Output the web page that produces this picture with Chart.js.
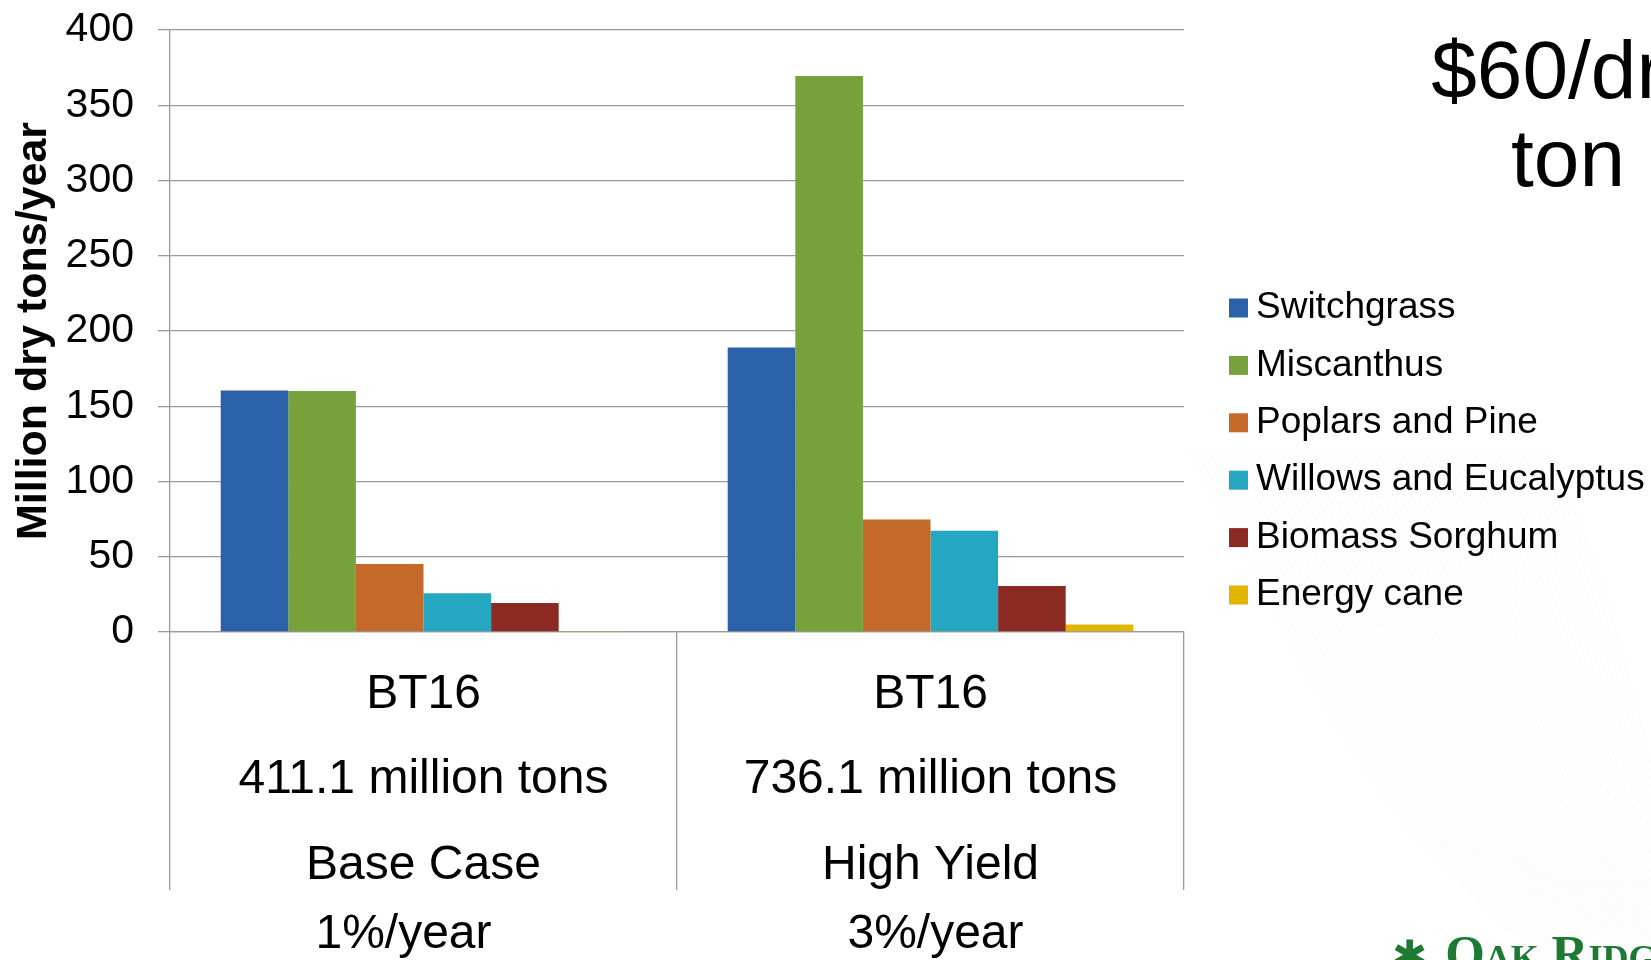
<!DOCTYPE html>
<html>
<head>
<meta charset="utf-8">
<title>Biomass crops at $60/dry ton</title>
<script src="https://cdn.jsdelivr.net/npm/chart.js@4.4.1/dist/chart.umd.min.js"></script>
<style>
  html, body { margin: 0; padding: 0; background: #fff; overflow: hidden; }
  #wrap { position: relative; width: 1651px; height: 960px; overflow: hidden; }
  #waves { position: absolute; left: 0; top: 0; }
  #chart { position: relative; }
  #head {
    position: absolute; left: 1368px; top: 26px; width: 400px;
    font: 82px "Liberation Sans", Arial, sans-serif; line-height: 88px;
    text-align: center; color: #000;
  }
  #logo {
    position: absolute; left: 1392px; top: 928px; white-space: nowrap;
    font: bold 51px "Liberation Serif", "DejaVu Serif", serif; line-height: 50px;
    font-variant: small-caps; color: #1e7a33;
  }
  #logo span { font-family: "DejaVu Sans", sans-serif; font-size: 42px; margin-right: 18px; }
</style>
</head>
<body>
<div id="wrap">
  <svg id="waves" width="1651" height="960"></svg>
  <canvas id="chart"></canvas>
  <div id="head">$60/dry<br>ton</div>
  <div id="logo"><span>&#10033;</span>Oak Ridge</div>
</div>
<script>
// categories: one multi-line label per scenario
const categories = [
  ['BT16', '411.1 million tons', 'Base Case'],
  ['BT16', '736.1 million tons', 'High Yield']
]
const growthRates = ['1%/year', '3%/year']

const seriesNames = ['Switchgrass', 'Miscanthus', 'Poplars and Pine', 'Willows and Eucalyptus', 'Biomass Sorghum', 'Energy cane']
const switchgrass = [160.5, 189.0]
const miscanthus = [160.1, 369.5]
const poplarsPine = [45.1, 74.8]
const willowsEucalyptus = [25.8, 67.3]
const biomassSorghum = [19.2, 30.5]
const energyCane = [0.4, 5.0]

const yTickValues = [0, 50, 100, 150, 200, 250, 300, 350, 400]

const colors = ['#2a61a8', '#77a13a', '#c4692a', '#25a7c2', '#8b2a22', '#e2b600']
const FONT = '"Liberation Sans", Arial, sans-serif'
const GRID = '#9a9a9a'

// faint slide background: a fan of thin green curves in the lower right
const svg = document.getElementById('waves')
let paths = ''
for (let k = 0; k < 60; k++) {
  const d = k * 6
  paths += `<path d="M ${1190 + d} 450 C ${1290 + d} 630, ${1350 + d * 0.8} 820, ${1570 + d * 0.5} 980" fill="none" stroke="#3c8a4a" stroke-width="1" stroke-opacity="0.045"/>`
}
svg.innerHTML = paths

// legend drawn by hand so it can sit beside the plot, centred on the whole chart
const sideLegend = {
  id: 'sideLegend',
  afterDraw(chart) {
    const ctx = chart.ctx
    ctx.save()
    ctx.font = '37px ' + FONT
    ctx.textBaseline = 'middle'
    ctx.textAlign = 'left'
    chart.data.datasets.forEach((ds, i) => {
      const y = 308 + i * 57.4
      ctx.fillStyle = ds.backgroundColor
      ctx.fillRect(1229, y - 9.5, 19, 19)
      ctx.fillStyle = '#000'
      ctx.fillText(ds.label, 1256, y)
    })
    ctx.restore()
  }
}

// growth rate line under each category
const growthNudge = [-20, 5]
const growthLine = {
  id: 'growthLine',
  afterDraw(chart) {
    const ctx = chart.ctx
    const xs = chart.scales.x
    ctx.save()
    ctx.font = '48px ' + FONT
    ctx.fillStyle = '#000'
    ctx.textAlign = 'center'
    ctx.textBaseline = 'middle'
    growthRates.forEach((t, i) => {
      ctx.fillText(t, xs.getPixelForValue(i) + growthNudge[i], 935)
    })
    ctx.restore()
  }
}

const series = [switchgrass, miscanthus, poplarsPine, willowsEucalyptus, biomassSorghum, energyCane]

const ctx = document.getElementById('chart').getContext('2d')
const myChart = new Chart(ctx, {
  type: 'bar',
  data: {
    labels: categories,
    datasets: series.map((vals, i) => ({
      label: seriesNames[i],
      data: vals,
      backgroundColor: colors[i],
      borderWidth: 0,
      categoryPercentage: 0.8,
      barPercentage: 1.0
    }))
  },
  options: {
    responsive: true,
    maintainAspectRatio: false,
    animation: false,
    layout: { padding: { left: 0, right: 467, top: 30, bottom: 0 } },
    plugins: {
      legend: { display: false },
      tooltip: { enabled: false }
    },
    scales: {
      x: {
        offset: true,
        afterFit: s => { s.height = 328 },
        grid: {
          offset: true,
          drawOnChartArea: false,
          drawTicks: true,
          tickLength: 258,
          color: GRID,
          lineWidth: 1.3
        },
        border: { display: true, color: GRID, width: 1.3 },
        ticks: {
          autoSkip: false,
          maxRotation: 0,
          color: '#000',
          padding: -238,
          font: { family: FONT, size: 48, lineHeight: 1.78 }
        }
      },
      y: {
        min: 0,
        max: 400,
        afterFit: s => { s.width = 170; s.paddingTop = 0; s.paddingBottom = 0 },
        afterBuildTicks: s => { s.ticks = yTickValues.map(v => ({ value: v })) },
        grid: { color: GRID, lineWidth: 1.3, tickLength: 12 },
        border: { display: true, color: GRID, width: 1.3 },
        ticks: {
          color: '#000',
          padding: 24,
          font: { family: FONT, size: 41 }
        },
        title: {
          display: true,
          text: 'Million dry tons/year',
          color: '#000',
          padding: { top: 8, bottom: 0 },
          font: { family: FONT, size: 43, weight: 'bold' }
        }
      }
    }
  },
  plugins: [sideLegend, growthLine]
})
</script>
</body>
</html>
